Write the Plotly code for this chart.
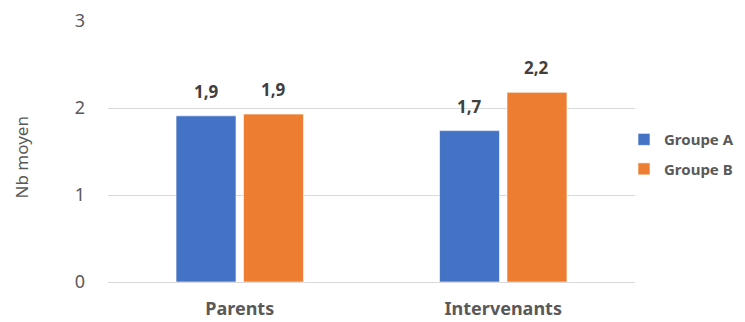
import plotly.graph_objects as go

categories = ["Parents", "Intervenants"]
groupe_a = [1.91, 1.74]
groupe_b = [1.93, 2.18]
series_names = ["Groupe A", "Groupe B"]
colors = ["#4472C4", "#ED7D31"]
y_ticks = [0, 1, 2, 3]

FONT = "Noto Sans"
GREY = "#595959"

fig = go.Figure()
for name, vals, col in zip(series_names, [groupe_a, groupe_b], colors):
    fig.add_trace(go.Bar(
        x=categories, y=vals, name=name, legendgroup=name,
        marker=dict(color=col, line=dict(color="rgba(255,255,255,0.6)", width=1)),
        hoverinfo="skip",
    ))

# value labels
offsets = [-0.128, 0.128]
for vals, off in zip([groupe_a, groupe_b], offsets):
    for i, v in enumerate(vals):
        fig.add_annotation(
            x=i + off, y=v, xref="x", yref="y",
            text="<b>" + f"{v:.1f}".replace(".", ",") + "</b>",
            showarrow=False, yanchor="bottom", yshift=11,
            font=dict(family=FONT, size=17, color="#404040"),
        )

fig.add_annotation(
    x=(21 - 108) / 527, y=0.5, xref="paper", yref="paper", text="Nb moyen",
    textangle=-90, showarrow=False, xanchor="center", yanchor="middle",
    yshift=-6,
    font=dict(family=FONT, size=17, color=GREY),
)

fig.update_layout(
    width=745, height=322,
    margin=dict(l=108, r=110, t=21, b=40, autoexpand=False),
    paper_bgcolor="white", plot_bgcolor="white",
    barmode="group", bargap=0.488, bargroupgap=0.111,
    font=dict(family=FONT, color=GREY),
    showlegend=True,
    legend=dict(
        x=(624 - 108) / 527, y=0.49, xanchor="left", yanchor="middle",
        font=dict(family=FONT, size=15, color=GREY, weight="bold"),
        tracegroupgap=7, itemwidth=30,
        bgcolor="rgba(0,0,0,0)",
    ),
    xaxis=dict(
        showgrid=False, showline=False, zeroline=False,
        tickfont=dict(family=FONT, size=18, color=GREY, weight="bold"),
        ticklabelstandoff=14,
    ),
    yaxis=dict(
        range=[0, 3], tickvals=y_ticks,
        showgrid=True, gridcolor="#D9D9D9", gridwidth=1,
        zeroline=True, zerolinecolor="#D9D9D9", zerolinewidth=1,
        showline=False,
        tickfont=dict(family=FONT, size=18, color=GREY),
        ticklabelstandoff=22,
    ),
)

fig.write_html("out.html")
